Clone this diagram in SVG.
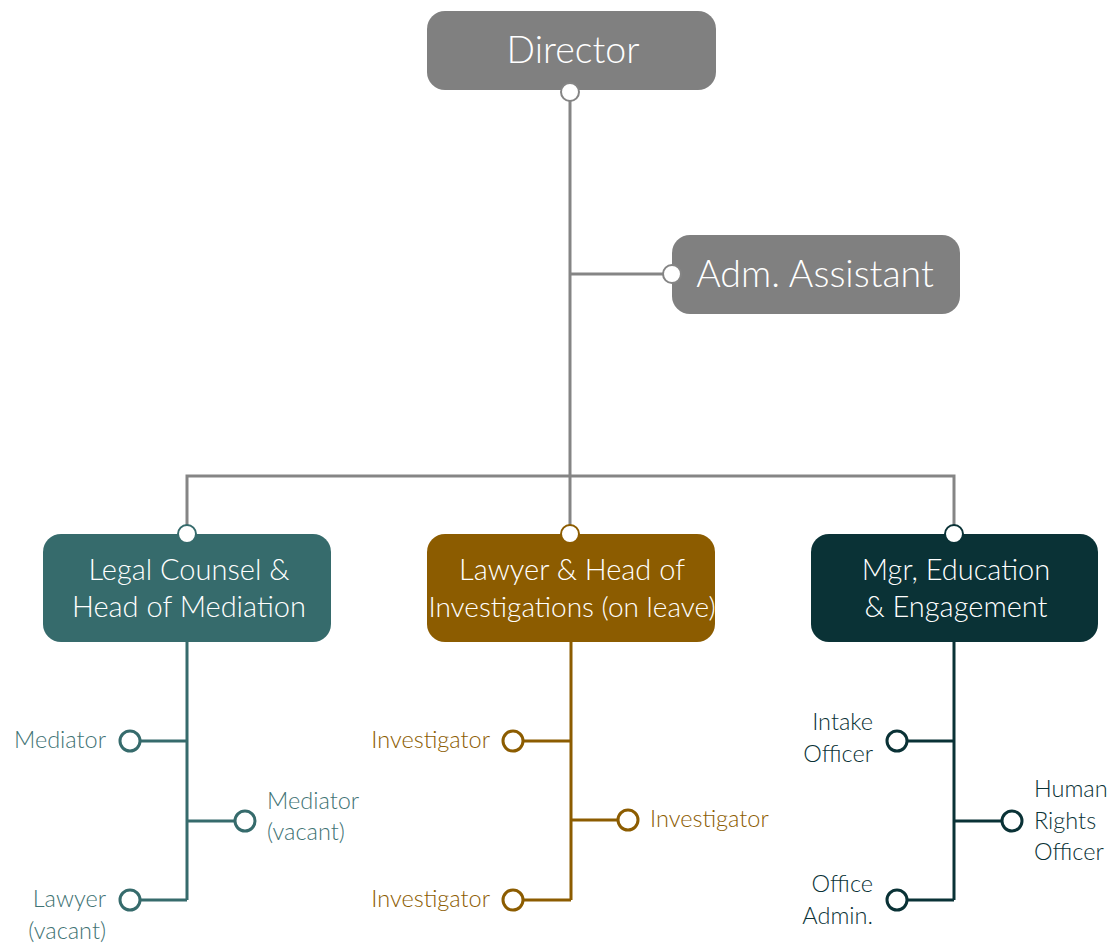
<svg xmlns="http://www.w3.org/2000/svg" width="1113" height="944" viewBox="0 0 1113 944">
<style>
text{font-family:Lato,"Open Sans","DejaVu Sans",sans-serif;font-weight:300}
.big{font-size:37.5px;fill:#fff}
.mid{font-size:29px;fill:#fff;text-anchor:middle}
.lab{font-size:23.5px}
.gl{stroke:#858585;stroke-width:3;fill:none}
.dot{fill:#fff;stroke-width:3}
.teal{fill:#3f7374}.gold{fill:#8c5c00}.dark{fill:#0a3236}
.tl{stroke:#366b6c;stroke-width:3;fill:none}
.gd{stroke:#8c5c00;stroke-width:3;fill:none}
.dk{stroke:#0a3236;stroke-width:3;fill:none}
</style>
<rect width="1113" height="944" fill="#fff"/>
<g id="connectors">
<path class="gl" d="M570 92V534M570 274H663M187 534V476H954V534"/>
<path class="tl" d="M187 642V900M187 741H140M187 821H235M187 900H140"/>
<path class="gd" d="M571 642V900M571 741H523M571 820H618M571 900H523"/>
<path class="dk" d="M954 642V900M954 741H907M954 821H1002M954 900H907"/>
</g>
<g id="director">
<rect x="427" y="11" width="289" height="79" rx="18" fill="#808080"/>
<text class="big" x="573" y="63" text-anchor="middle">Director</text>
<circle cx="570" cy="92" r="9" fill="#fff" stroke="#858585" stroke-width="2"/>
</g>
<g id="adm-assistant">
<rect x="672" y="235" width="288" height="79" rx="18" fill="#808080"/>
<text class="big" x="815" y="287" text-anchor="middle">Adm. Assistant</text>
<circle cx="672" cy="274" r="9" fill="#fff" stroke="#858585" stroke-width="2"/>
</g>
<g id="legal-counsel">
<rect x="43" y="534" width="288" height="108" rx="18" fill="#366b6c"/>
<text class="mid" x="189" y="580">Legal Counsel &amp;</text>
<text class="mid" x="189" y="617">Head of Mediation</text>
<circle cx="187" cy="534" r="9" fill="#fff" stroke="#366b6c" stroke-width="2"/>
</g>
<g id="lawyer-head">
<rect x="427" y="534" width="288" height="108" rx="18" fill="#8c5c00"/>
<text class="mid" x="572" y="580">Lawyer &amp; Head of</text>
<text class="mid" x="572" y="617" style="font-size:28px">Investigations (on leave)</text>
<circle cx="570" cy="534" r="9" fill="#fff" stroke="#8c5c00" stroke-width="2"/>
</g>
<g id="mgr-education">
<rect x="811" y="534" width="287" height="108" rx="18" fill="#0a3236"/>
<text class="mid" x="956" y="580">Mgr, Education</text>
<text class="mid" x="956" y="617">&amp; Engagement</text>
<circle cx="954" cy="534" r="9" fill="#fff" stroke="#0a3236" stroke-width="2"/>
</g>
<g id="mediator-1">
<circle class="dot" cx="130" cy="741" r="10" stroke="#366b6c"/>
<text class="lab teal" x="106" y="748" text-anchor="end">Mediator</text>
</g>
<g id="mediator-2">
<circle class="dot" cx="245" cy="821" r="10" stroke="#366b6c"/>
<text class="lab teal" x="267" y="809">Mediator</text>
<text class="lab teal" x="267" y="840">(vacant)</text>
</g>
<g id="lawyer">
<circle class="dot" cx="130" cy="900" r="10" stroke="#366b6c"/>
<text class="lab teal" x="106" y="907" text-anchor="end">Lawyer</text>
<text class="lab teal" x="106" y="939" text-anchor="end">(vacant)</text>
</g>
<g id="investigator-1">
<circle class="dot" cx="513" cy="741" r="10" stroke="#8c5c00"/>
<text class="lab gold" x="490" y="748" text-anchor="end">Investigator</text>
</g>
<g id="investigator-2">
<circle class="dot" cx="628" cy="820" r="10" stroke="#8c5c00"/>
<text class="lab gold" x="650" y="827">Investigator</text>
</g>
<g id="investigator-3">
<circle class="dot" cx="513" cy="900" r="10" stroke="#8c5c00"/>
<text class="lab gold" x="490" y="907" text-anchor="end">Investigator</text>
</g>
<g id="intake-officer">
<circle class="dot" cx="897" cy="741" r="10" stroke="#0a3236"/>
<text class="lab dark" x="873" y="730" text-anchor="end">Intake</text>
<text class="lab dark" x="873" y="762" text-anchor="end">Officer</text>
</g>
<g id="human-rights-officer">
<circle class="dot" cx="1012" cy="821" r="10" stroke="#0a3236"/>
<text class="lab dark" x="1034" y="797">Human</text>
<text class="lab dark" x="1034" y="829">Rights</text>
<text class="lab dark" x="1034" y="860">Officer</text>
</g>
<g id="office-admin">
<circle class="dot" cx="897" cy="900" r="10" stroke="#0a3236"/>
<text class="lab dark" x="873" y="892" text-anchor="end">Office</text>
<text class="lab dark" x="873" y="924" text-anchor="end">Admin.</text>
</g>
</svg>
